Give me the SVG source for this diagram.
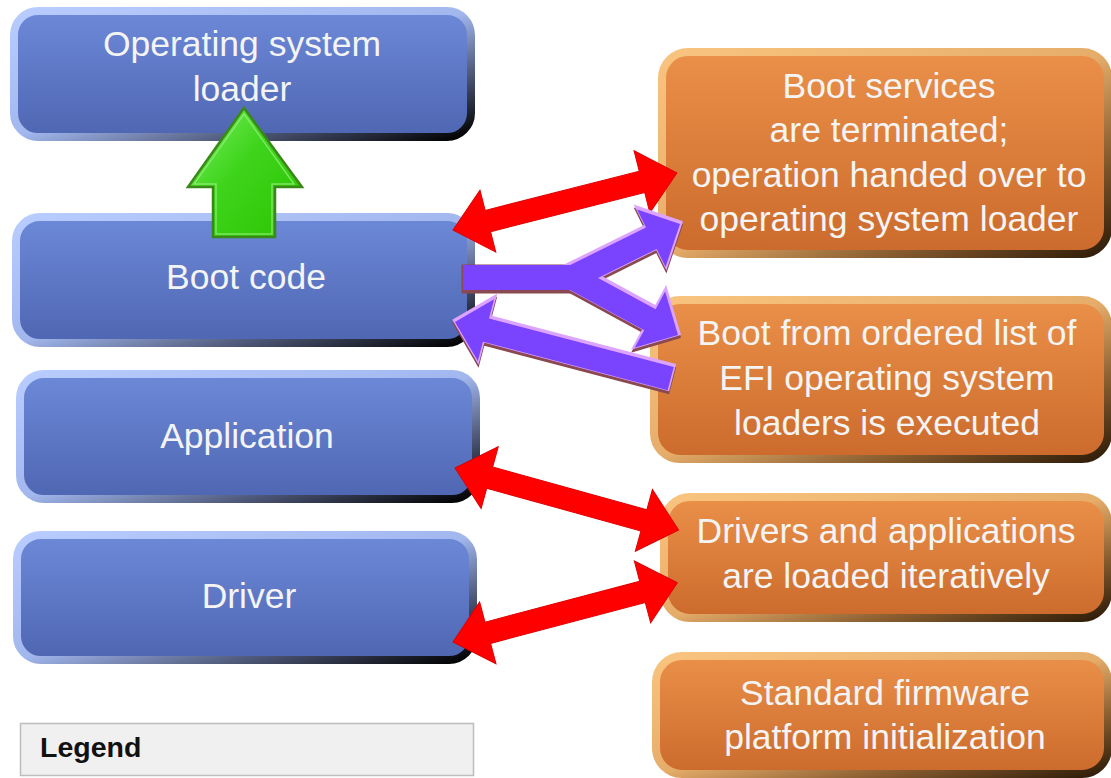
<svg xmlns="http://www.w3.org/2000/svg" xmlns:xlink="http://www.w3.org/1999/xlink" width="1111" height="778" viewBox="0 0 1111 778">
<defs>
<linearGradient id="blueFill" x1="0" y1="0" x2="0" y2="1">
<stop offset="0" stop-color="#6c89d8"/>
<stop offset="1" stop-color="#4f66b2"/>
</linearGradient>
<linearGradient id="blueEdge" x1="0" y1="0" x2="1" y2="1">
<stop offset="0" stop-color="#b8ccff"/>
<stop offset="0.5" stop-color="#a2b7ee"/>
<stop offset="0.75" stop-color="#4e5878"/>
<stop offset="1" stop-color="#000000"/>
</linearGradient>
<linearGradient id="orangeFill" x1="0" y1="0" x2="0" y2="1">
<stop offset="0" stop-color="#ea9049"/>
<stop offset="1" stop-color="#cb6a2c"/>
</linearGradient>
<linearGradient id="orangeEdge" x1="0" y1="0" x2="1" y2="1">
<stop offset="0" stop-color="#f9c47f"/>
<stop offset="0.5" stop-color="#e6ad6a"/>
<stop offset="0.75" stop-color="#8a5e30"/>
<stop offset="1" stop-color="#2e1c08"/>
</linearGradient>
<linearGradient id="greenFill" x1="0" y1="0" x2="1" y2="1">
<stop offset="0" stop-color="#7af062"/>
<stop offset="0.45" stop-color="#3fd41c"/>
<stop offset="1" stop-color="#2ac400"/>
</linearGradient>
<style>
.bbox{fill:url(#blueFill);stroke:url(#blueEdge);stroke-width:8}
.obox{fill:url(#orangeFill);stroke:url(#orangeEdge);stroke-width:8}
.lbl{font-family:"Liberation Sans",Arial,sans-serif;font-size:35.5px;fill:#f4f4f4;text-anchor:middle}
.red{fill:#ff0000;stroke:#e00000;stroke-width:1;stroke-linejoin:miter}
.pfill{fill:#7a44ff}
.plight{fill:none;stroke:#dca4ff;stroke-width:4;stroke-linejoin:miter}
.pdark{fill:none;stroke:#8a4850;stroke-width:4;stroke-linejoin:miter}
</style>
<path id="pShaft" d="M463,265 L592,265 L592,290 L463,290 Z"/>
<path id="pUp" transform="translate(680,224) rotate(153.65)" d="M0,0 L32,-32 L32,-12 L121,-12 L121,12 L32,12 L32,32 Z"/>
<path id="pDown" transform="translate(678,335) rotate(-151.5)" d="M0,0 L32,-32 L32,-12 L121,-12 L121,12 L32,12 L32,32 Z"/>
<path id="pBack" transform="translate(455,322) rotate(14.7)" d="M0,0 L32,-32 L32,-12 L223,-12 L223,12 L32,12 L32,32 Z"/>
</defs>
<rect width="1111" height="778" fill="#ffffff"/>

<g id="node-os-loader">
<rect class="bbox" x="14" y="11" width="457" height="126" rx="24"/>
<text class="lbl" x="242" y="56">Operating system</text>
<text class="lbl" x="242" y="101">loader</text>
</g>
<g id="node-boot-code">
<rect class="bbox" x="16" y="217" width="455" height="126" rx="24"/>
<text class="lbl" x="246" y="289">Boot code</text>
</g>
<g id="node-application">
<rect class="bbox" x="20" y="374" width="456" height="125" rx="24"/>
<text class="lbl" x="247" y="448">Application</text>
</g>
<g id="node-driver">
<rect class="bbox" x="17" y="535" width="456" height="125" rx="24"/>
<text class="lbl" x="249" y="608">Driver</text>
</g>

<g id="node-boot-services">
<rect class="obox" x="662" y="52" width="446" height="202" rx="26"/>
<text class="lbl" x="889" y="98">Boot services</text>
<text class="lbl" x="889" y="142">are terminated;</text>
<text class="lbl" x="889" y="187">operation handed over to</text>
<text class="lbl" x="889" y="231">operating system loader</text>
</g>
<g id="node-boot-list">
<rect class="obox" x="654" y="300" width="454" height="159" rx="26"/>
<text class="lbl" x="887" y="345">Boot from ordered list of</text>
<text class="lbl" x="887" y="390">EFI operating system</text>
<text class="lbl" x="887" y="435">loaders is executed</text>
</g>
<g id="node-drivers-apps">
<rect class="obox" x="664" y="497" width="444" height="121" rx="26"/>
<text class="lbl" x="886" y="543">Drivers and applications</text>
<text class="lbl" x="886" y="588">are loaded iteratively</text>
</g>
<g id="node-firmware">
<rect class="obox" x="656" y="656" width="452" height="118" rx="26"/>
<text class="lbl" x="885" y="705">Standard firmware</text>
<text class="lbl" x="885" y="749">platform initialization</text>
</g>

<g id="legend">
<rect x="20.5" y="723.5" width="453" height="52" fill="#f0f0f0" stroke="#bdbdbd" stroke-width="1.5"/>
<text x="40" y="757" font-family="'Liberation Sans',Arial,sans-serif" font-size="28.5" font-weight="bold" fill="#111111">Legend</text>
</g>

<g id="connectors">
<g id="green-up-arrow">
<path d="M244,108 L302,187 L275,187 L275,237 L213,237 L213,187 L188,187 Z" fill="url(#greenFill)" stroke="#3a8818" stroke-width="2.5" stroke-linejoin="miter"/>
<path d="M244,114 L294,184 L272,184 L272,234 L216,234 L216,184 L194,184 Z" fill="none" stroke="#9af080" stroke-width="1.5" opacity="0.7"/>
</g>
<path id="red-bootservices" class="red" transform="translate(453,230) rotate(-14.3)" d="M0,0 L36,-32 L36,-11 L195,-11 L195,-32 L231,0 L195,32 L195,11 L36,11 L36,32 Z"/>
<path id="red-application" class="red" transform="translate(455,468) rotate(15.5)" d="M0,0 L36,-32 L36,-11 L196,-11 L196,-32 L232,0 L196,32 L196,11 L36,11 L36,32 Z"/>
<path id="red-driver" class="red" transform="translate(453,642) rotate(-14.8)" d="M0,0 L36,-32 L36,-11 L196,-11 L196,-32 L232,0 L196,32 L196,11 L36,11 L36,32 Z"/>
<g id="purple-fork">
<g transform="translate(0.5,1.5)" class="pdark"><use xlink:href="#pShaft"/><use xlink:href="#pUp"/><use xlink:href="#pDown"/></g>
<g transform="translate(0.5,-1.5)" class="plight"><use xlink:href="#pUp"/><use xlink:href="#pDown"/></g>
<g class="pfill"><use xlink:href="#pShaft"/><use xlink:href="#pUp"/><use xlink:href="#pDown"/></g>
</g>
<g id="purple-back">
<use xlink:href="#pBack" class="pdark" transform="translate(0,1.5)"/>
<use xlink:href="#pBack" class="plight" transform="translate(0,-1.5)"/>
<use xlink:href="#pBack" class="pfill"/>
</g>
</g>
</svg>
